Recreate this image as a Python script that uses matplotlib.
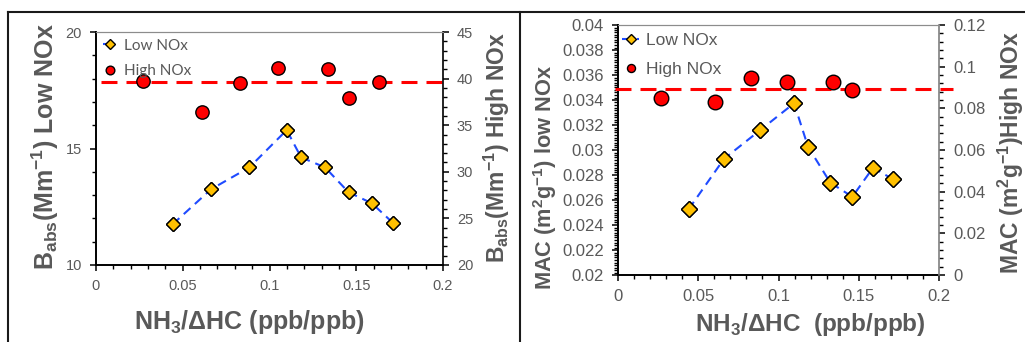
import matplotlib
matplotlib.use("Agg")
import matplotlib.pyplot as plt
from matplotlib.ticker import MultipleLocator, FuncFormatter
from matplotlib.lines import Line2D

plt.rcParams['font.family'] = ['Liberation Sans', 'DejaVu Sans']
plt.rcParams['mathtext.fontset'] = 'custom'
plt.rcParams['mathtext.rm'] = 'Liberation Sans'
plt.rcParams['mathtext.bf'] = 'Liberation Sans:bold'
plt.rcParams['lines.scale_dashes'] = False

# ---------------- data ----------------
# Left panel: B_abs
babs_low_x = [0.0442, 0.0663, 0.0884, 0.1099, 0.1182, 0.1320, 0.1456, 0.1590, 0.1714]
babs_low_y = [11.75, 13.25, 14.19, 15.79, 14.62, 14.19, 13.12, 12.65, 11.79]
babs_high_x = [0.0273, 0.0609, 0.0830, 0.1051, 0.1339, 0.1456, 0.1630]
babs_high_y = [39.74, 36.38, 39.56, 41.10, 41.00, 37.95, 39.67]
babs_high_mean = 39.6
babs_mean_x = [0.003, 0.2]

# Right panel: MAC
mac_low_x = [0.0440, 0.0661, 0.0887, 0.1097, 0.1184, 0.1323, 0.1460, 0.1589, 0.1713]
mac_low_y = [0.02526, 0.0293, 0.0316, 0.03374, 0.03026, 0.02738, 0.02626, 0.02858, 0.02766]
mac_high_x = [0.0270, 0.0602, 0.0831, 0.1055, 0.1340, 0.1458]
mac_high_y = [0.0848, 0.0832, 0.0947, 0.0925, 0.0928, 0.0888]
mac_high_mean = 0.0893
mac_mean_x = [-0.002, 0.209]

labels = ["Low NOx", "High NOx"]

GRAY = '#595959'
ORANGE = '#FFC000'
RED = '#FF0000'
BLUE = '#1F4BFF'

W, H = 1025, 342
fig = plt.figure(figsize=(W / 100, H / 100), dpi=100)


def fx(px):
    return px / W


def fy(py):
    return 1 - py / H


fmt = FuncFormatter(lambda v, p: ('%g' % round(v, 6)))


def style_axes(ax, axr, fs):
    for a in (ax, axr):
        a.spines['top'].set_color('#8c8c8c')
        a.spines['top'].set_linewidth(0.8)
    ax.spines['left'].set_linewidth(1.4)
    ax.spines['bottom'].set_linewidth(1.4)
    ax.spines['right'].set_visible(False)
    axr.spines['left'].set_visible(False)
    axr.spines['bottom'].set_visible(False)
    axr.spines['right'].set_linewidth(1.2)
    for a in (ax, axr):
        a.tick_params(which='major', direction='out', length=4, width=1.1,
                      labelsize=fs, labelcolor=GRAY, pad=6)
        a.tick_params(which='minor', direction='out', length=3, width=1.0)
        a.yaxis.set_major_formatter(fmt)
    ax.xaxis.set_major_formatter(fmt)
    ax.tick_params(axis='x', which='both', top=False)


# ---------------- left panel ----------------
ax1 = fig.add_axes([fx(96), fy(265), fx(443 - 96), (265 - 32) / H])
ax1r = ax1.twinx()
ax1.set_xlim(0, 0.2)
ax1.set_ylim(10, 20)
ax1r.set_ylim(20, 45)
ax1.xaxis.set_major_locator(MultipleLocator(0.05))
ax1.xaxis.set_minor_locator(MultipleLocator(0.01))
ax1.yaxis.set_major_locator(MultipleLocator(5))
ax1.yaxis.set_minor_locator(MultipleLocator(1))
ax1r.yaxis.set_major_locator(MultipleLocator(5))
ax1r.yaxis.set_minor_locator(MultipleLocator(1))
style_axes(ax1, ax1r, 10.5)

l1, = ax1.plot(babs_low_x, babs_low_y, color=BLUE, lw=1.5, dashes=(6.5, 4.3),
               marker='D', ms=7.5, mfc=ORANGE, mec='black', mew=1.0, zorder=3)
# keep line below markers
ax1.plot(babs_low_x, babs_low_y, ls='none', marker='D', ms=7.5, mfc=ORANGE,
         mec='black', mew=1.0, zorder=4)
ax1r.plot(babs_mean_x, [babs_high_mean] * 2, color=RED, lw=2.2, dashes=(11.5, 6.5),
          zorder=2, clip_on=False)
h1, = ax1r.plot(babs_high_x, babs_high_y, ls='none', marker='o', ms=9.6, mfc=RED,
                mec='black', mew=1.0, zorder=4)
leg1 = ax1r.legend([l1, h1], labels, loc='upper left', bbox_to_anchor=(-0.02, 1.03),
                   frameon=False, handlelength=1.0, handletextpad=0.4, markerscale=0.65,
                   labelspacing=0.75, prop={'family': 'Lato', 'size': 11}, labelcolor=GRAY)

fig.text(fx(45.8), fy(147), r'B$_{\mathregular{abs}}$(Mm$^{\mathregular{-1}}$) Low NOx',
         rotation=90, ha='center', va='center', fontsize=18, fontweight='bold', color=GRAY)
fig.text(fx(497), fy(147.5), r'B$_{\mathregular{abs}}$(Mm$^{\mathregular{-1}}$) High NOx',
         rotation=90, ha='center', va='center', fontsize=16.5, fontweight='bold', color=GRAY)
fig.text(fx(249), fy(322), r'NH$_{\mathregular{3}}$/ΔHC (ppb/ppb)',
         ha='center', va='center', fontsize=18, fontweight='bold', color=GRAY)

# ---------------- right panel ----------------
ax2 = fig.add_axes([fx(618), fy(275), fx(939 - 618), (275 - 25) / H])
ax2r = ax2.twinx()
ax2.set_xlim(0, 0.2)
ax2.set_ylim(0.02, 0.04)
ax2r.set_ylim(0, 0.12)
ax2.xaxis.set_major_locator(MultipleLocator(0.05))
ax2.xaxis.set_minor_locator(MultipleLocator(0.01))
ax2.yaxis.set_major_locator(MultipleLocator(0.002))
ax2.yaxis.set_minor_locator(MultipleLocator(0.0002))
ax2r.yaxis.set_major_locator(MultipleLocator(0.02))
ax2r.yaxis.set_minor_locator(MultipleLocator(0.004))
style_axes(ax2, ax2r, 12)
ax2r.spines['right'].set_color('#7f7f7f')

l2, = ax2.plot(mac_low_x, mac_low_y, color=BLUE, lw=1.5, dashes=(6.5, 4.3),
               marker='D', ms=8.5, mfc=ORANGE, mec='black', mew=1.0, zorder=3)
ax2.plot(mac_low_x, mac_low_y, ls='none', marker='D', ms=8.5, mfc=ORANGE,
         mec='black', mew=1.0, zorder=4)
ax2r.plot(mac_mean_x, [mac_high_mean] * 2, color=RED, lw=2.2, dashes=(11.5, 6.5),
          zorder=2, clip_on=False)
h2, = ax2r.plot(mac_high_x, mac_high_y, ls='none', marker='o', ms=10.5, mfc=RED,
                mec='black', mew=1.0, zorder=4)
leg2 = ax2r.legend([l2, h2], labels, loc='upper left', bbox_to_anchor=(-0.036, 1.032),
                   frameon=False, handlelength=1.0, handletextpad=0.4, markerscale=0.55,
                   labelspacing=0.8, prop={'family': 'Liberation Sans', 'size': 12.5},
                   labelcolor=GRAY)

fig.text(fx(545), fy(177), r'MAC (m$^{\mathregular{2}}$g$^{\mathregular{-1}}$) low NOx',
         rotation=90, ha='center', va='center', fontsize=15.7, fontweight='bold', color=GRAY)
fig.text(fx(1011), fy(153), r'MAC (m$^{\mathregular{2}}$g$^{\mathregular{-1}}$)High NOx',
         rotation=90, ha='center', va='center', fontsize=16.5, fontweight='bold', color=GRAY)
fig.text(fx(810), fy(325), r'NH$_{\mathregular{3}}$/ΔHC  (ppb/ppb)',
         ha='center', va='center', fontsize=17.5, fontweight='bold', color=GRAY)

# ---------------- panel frames ----------------
for (x0, y0, x1, y1) in [(8, 12, 1025, 12), (8, 12, 8, 342), (520, 12, 520, 342)]:
    fig.add_artist(Line2D([fx(x0), fx(x1)], [fy(y0), fy(y1)], color='#1a1a1a', lw=1.5))

fig.savefig('out.png', dpi=100)
